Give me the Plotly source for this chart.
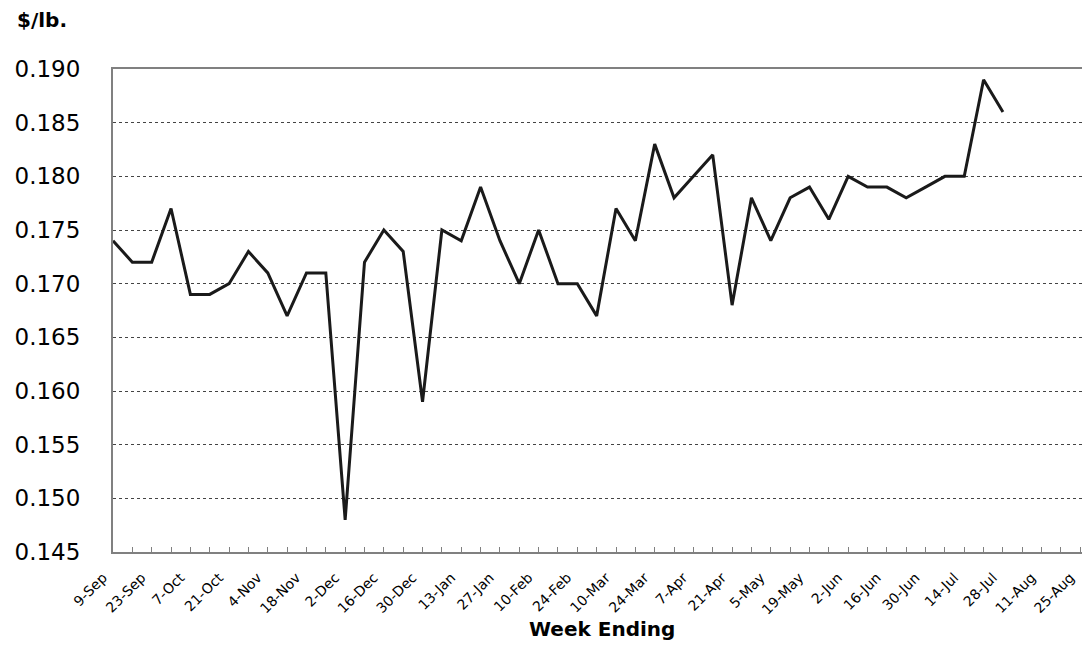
import plotly.graph_objects as go

weeks = ["9-Sep", "16-Sep", "23-Sep", "30-Sep", "7-Oct", "14-Oct", "21-Oct", "28-Oct",
         "4-Nov", "11-Nov", "18-Nov", "25-Nov", "2-Dec", "9-Dec", "16-Dec", "23-Dec",
         "30-Dec", "6-Jan", "13-Jan", "20-Jan", "27-Jan", "3-Feb", "10-Feb", "17-Feb",
         "24-Feb", "3-Mar", "10-Mar", "17-Mar", "24-Mar", "31-Mar", "7-Apr", "14-Apr",
         "21-Apr", "28-Apr", "5-May", "12-May", "19-May", "26-May", "2-Jun", "9-Jun",
         "16-Jun", "23-Jun", "30-Jun", "7-Jul", "14-Jul", "21-Jul", "28-Jul", "4-Aug",
         "11-Aug", "18-Aug", "25-Aug"]

prices = [0.174, 0.172, 0.172, 0.177, 0.169, 0.169, 0.170, 0.173, 0.171, 0.167,
          0.171, 0.171, 0.148, 0.172, 0.175, 0.173, 0.159, 0.175, 0.174, 0.179,
          0.174, 0.170, 0.175, 0.170, 0.170, 0.167, 0.177, 0.174, 0.183, 0.178,
          0.180, 0.182, 0.168, 0.178, 0.174, 0.178, 0.179, 0.176, 0.180, 0.179,
          0.179, 0.178, 0.179, 0.180, 0.180, 0.189, 0.186]

y_ticks = [0.145, 0.150, 0.155, 0.160, 0.165, 0.170, 0.175, 0.180, 0.185, 0.190]

tick_text = [w if i % 2 == 0 else "" for i, w in enumerate(weeks)]

FONT = "DejaVu Sans"

# the page body has an 8px margin, so the figure is sized/placed to compensate
W, H = 1082, 639
L, T, B = 105, 61, 95
PH = H - T - B
PW = W - L

fig = go.Figure()
fig.add_trace(go.Scatter(
    x=weeks[:len(prices)], y=prices, mode="lines",
    line=dict(color="#1a1a1a", width=3), showlegend=False,
))

fig.update_layout(
    width=W, height=H,
    margin=dict(l=L, r=0, t=T, b=B),
    paper_bgcolor="white", plot_bgcolor="white",
    font=dict(family=FONT, color="black"),
    xaxis=dict(
        type="category", categoryorder="array", categoryarray=weeks,
        range=[0, 50.5], tickmode="array", tickvals=weeks, ticktext=tick_text,
        tickangle=-45, tickfont=dict(size=14, family=FONT),
        ticks="inside", ticklen=5, tickcolor="#808080", tickwidth=1,
        showline=True, linecolor="#808080", linewidth=2, mirror=True,
        showgrid=False, zeroline=False, automargin=False,
        ticklabelstandoff=10, ticklabelshift=-10,
    ),
    yaxis=dict(
        range=[0.145, 0.190], tickmode="array", tickvals=y_ticks,
        ticktext=[f"{v:.3f}" for v in y_ticks],
        tickfont=dict(size=23, family=FONT),
        ticks="", showline=True, linecolor="#808080", linewidth=2,
        showgrid=True, gridcolor="#444444", gridwidth=1, griddash="3px,3px",
        zeroline=False, automargin=False, ticklabelstandoff=26,
    ),
    annotations=[
        dict(text="<b>$/lb.</b>", xref="paper", yref="paper",
             x=(7 - L) / PW, y=1 + (T - 12) / PH, xanchor="left", yanchor="middle",
             showarrow=False, font=dict(size=20, family=FONT, color="black")),
        dict(text="<b>Week Ending</b>", xref="paper", yref="paper",
             x=0.5, y=-(621 - (T + PH)) / PH, xanchor="center", yanchor="middle",
             showarrow=False, font=dict(size=20, family=FONT, color="black")),
    ],
)

fig.write_html("out.html")
